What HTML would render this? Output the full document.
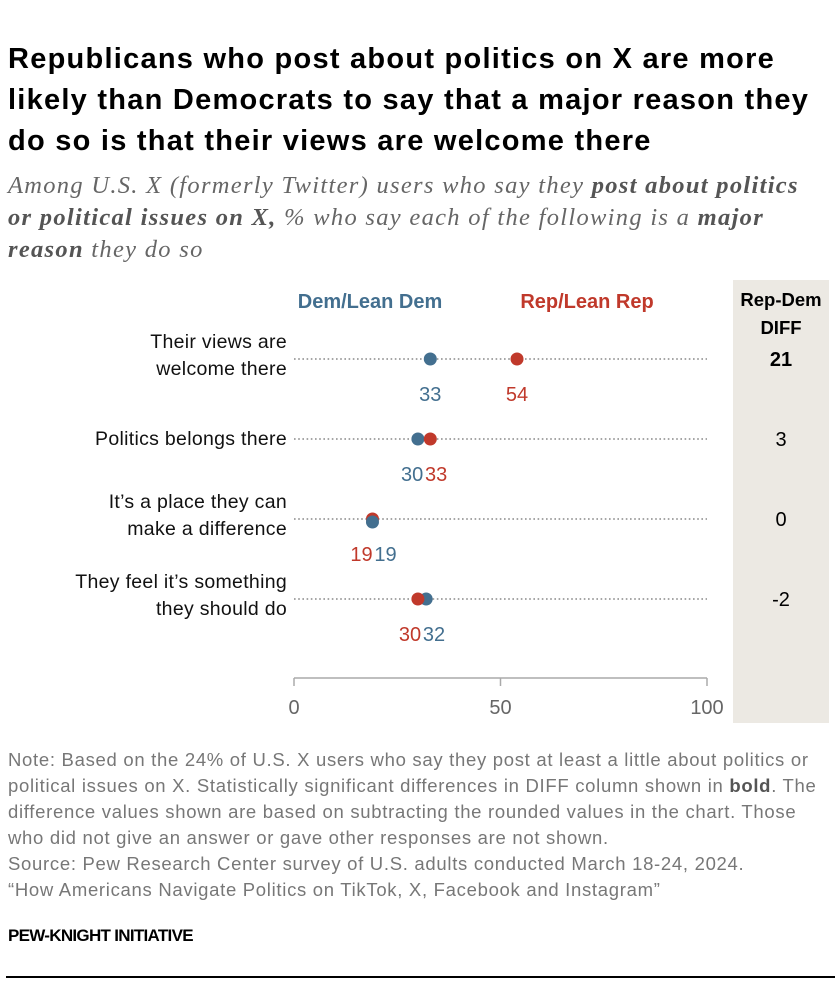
<!DOCTYPE html>
<html><head><meta charset="utf-8"><style>
body{margin:0;width:840px;height:994px;background:#fff;position:relative;overflow:hidden;font-family:"Liberation Sans",sans-serif}
.a{position:absolute}
#title{left:8px;top:39px;width:840px;font-size:29px;font-weight:bold;line-height:41px;color:#000;letter-spacing:1.25px;white-space:nowrap}
#sub{left:8px;top:170px;width:840px;font-family:"Liberation Serif",serif;font-style:italic;font-size:24.5px;line-height:32px;color:#666;white-space:nowrap;letter-spacing:1.3px}
#sub b{color:#555}
#note{left:8px;top:747px;width:840px;font-size:18.5px;line-height:26px;color:#777;letter-spacing:0.7px;white-space:nowrap}
#note b{color:#555}
#brand{left:8px;top:926px;font-size:17px;font-weight:bold;color:#000;letter-spacing:-0.7px}
#rule{left:6px;top:976px;width:829px;height:2px;background:#000}
</style></head><body>
<div id="title" class="a">Republicans who post about politics on X are more<br>likely than Democrats to say that a major reason they<br>do so is that their views are welcome there</div>
<div id="sub" class="a">Among U.S. X (formerly Twitter) users who say they <b>post about politics</b><br><b>or political issues on X,</b> % who say each of the following is a <b>major</b><br><b>reason</b> they do so</div>
<svg class="a" style="left:0;top:0" width="840" height="994" id="chart"></svg>
<div id="note" class="a">Note: Based on the 24% of U.S. X users who say they post at least a little about politics or<br>political issues on X. Statistically significant differences in DIFF column shown in <b>bold</b>. The<br>difference values shown are based on subtracting the rounded values in the chart. Those<br>who did not give an answer or gave other responses are not shown.<br>Source: Pew Research Center survey of U.S. adults conducted March 18-24, 2024.<br>“How Americans Navigate Politics on TikTok, X, Facebook and Instagram”</div>
<div id="brand" class="a">PEW-KNIGHT INITIATIVE</div>
<div id="rule" class="a"></div>
<script>
const categories=[["Their views are","welcome there"],["Politics belongs there"],["It’s a place they can","make a difference"],["They feel it’s something","they should do"]];
const demValues=[33,30,19,32];
const repValues=[54,33,19,30];
const diffValues=[21,3,0,-2];
const diffBold=[true,false,false,false];
const ticks=[0,50,100];
const NS="http://www.w3.org/2000/svg";
const svg=document.getElementById('chart');
const X0=294,X1=707;
const x=v=>X0+(X1-X0)*v/100;
const y=i=>359+80*i;
const BLUE="#436f8f",RED="#c0392b";
function mk(tag,attrs,txt){const e=document.createElementNS(NS,tag);for(const k in attrs)e.setAttribute(k,attrs[k]);if(txt!==undefined)e.textContent=txt;svg.appendChild(e);return e;}
let r=mk('rect',{x:733,y:280,width:96,height:443,fill:"#ece9e3"});


let t=mk('text',{x:781,y:306,'text-anchor':'middle','font-size':18.5,'font-weight':'bold',fill:'#000'},'Rep-Dem');


t=mk('text',{x:781,y:334,'text-anchor':'middle','font-size':18.5,'font-weight':'bold',fill:'#000'},'DIFF');


t=mk('text',{x:370,y:308,'text-anchor':'middle','font-size':20,'font-weight':'bold',fill:BLUE},'Dem/Lean Dem');


t=mk('text',{x:587,y:308,'text-anchor':'middle','font-size':20,'font-weight':'bold',fill:RED},'Rep/Lean Rep');


categories.forEach((c,i)=>{
  const yy=y(i);
  const ln=mk('line',{x1:294,x2:707,y1:yy,y2:yy,stroke:'#888','stroke-width':1.6,'stroke-dasharray':'1.6 2.6'});
  
  
  c.forEach((s,j)=>{
    const off=c.length===1?6:(j===0?-11:16);
    const lt=mk('text',{x:287,y:yy+off,'text-anchor':'end','font-size':19.5,fill:'#111','letter-spacing':0.3},s);
    
    
  });
  const d=demValues[i],rv=repValues[i];
  const drawDot=(v,col,nm)=>{const cc=mk('circle',{cx:x(v),cy:yy,r:6.5,fill:col});};
  const gap=Math.abs(d-rv);
  let dx=x(d),rx=x(rv);
  if(gap<8){const mid=(dx+rx)/2;
    if(d<rv){dx=mid-12;rx=mid+12;}else if(d>rv){dx=mid+12;rx=mid-12;}else{rx=mid-11;dx=mid+13;}}
  if(d===rv){drawDot(rv,RED,'dot-rep');const cc=mk('circle',{cx:x(d),cy:yy+3,r:6.5,fill:BLUE});}
  else{drawDot(d,BLUE,'dot-dem');drawDot(rv,RED,'dot-rep');}
  let lb=mk('text',{x:dx,y:yy+42,'text-anchor':'middle','font-size':20,fill:BLUE},d);
  
  
  lb=mk('text',{x:rx,y:yy+42,'text-anchor':'middle','font-size':20,fill:RED},rv);
  
  
  lb=mk('text',{x:781,y:yy+7,'text-anchor':'middle','font-size':20,'font-weight':diffBold[i]?'bold':'normal',fill:'#000'},diffValues[i]);
  
  
});
let ax=mk('line',{x1:x(0),x2:x(100),y1:678,y2:678,stroke:'#aaa','stroke-width':1.5});


ticks.forEach(v=>{
  const tk=mk('line',{x1:x(v),x2:x(v),y1:678,y2:686,stroke:'#aaa','stroke-width':1.5});
  
  
  const tl=mk('text',{x:x(v),y:714,'text-anchor':'middle','font-size':20,fill:'#666'},v);
  
  
});
</script>
</body></html>
